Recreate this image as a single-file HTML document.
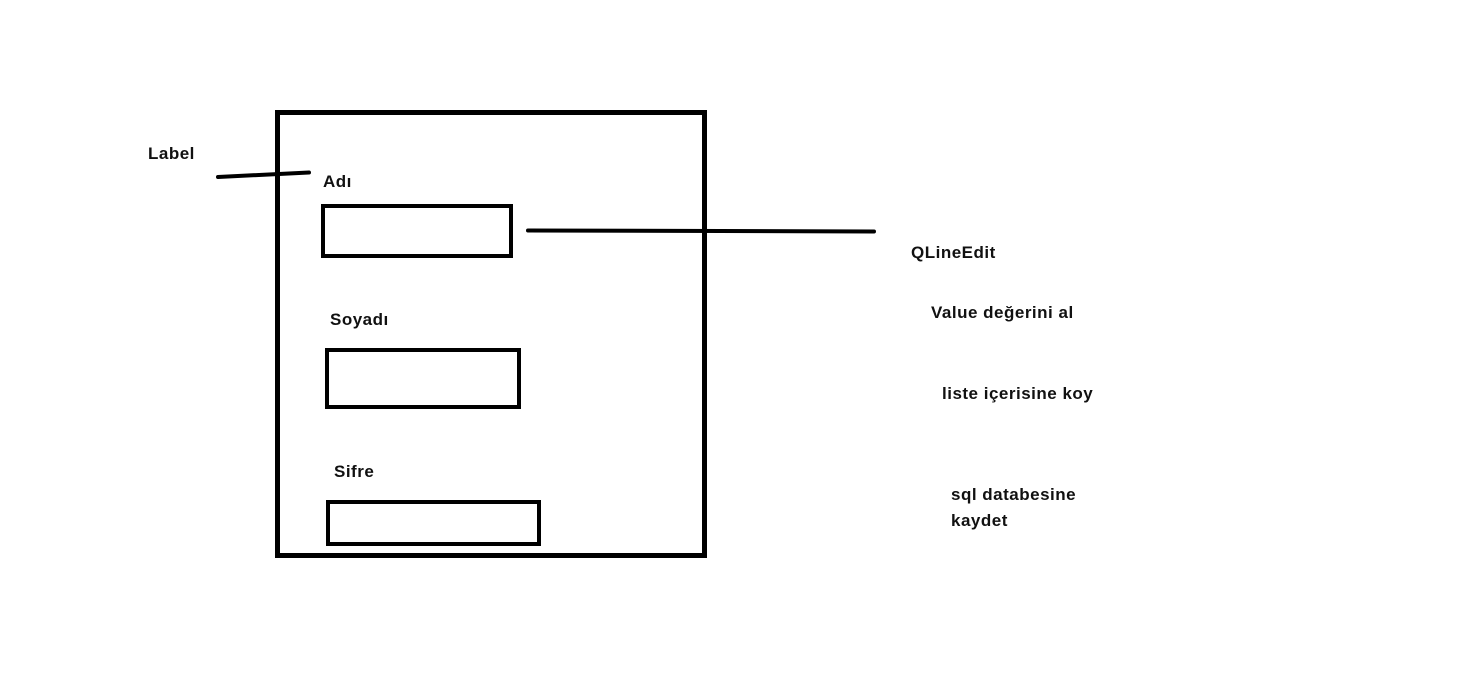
<!DOCTYPE html>
<html><head><meta charset="utf-8"><style>
html,body{margin:0;padding:0;background:#fff;width:1473px;height:692px;overflow:hidden}
svg text{font-family:"Liberation Sans",sans-serif;font-weight:bold;font-size:17px;letter-spacing:0.5px;fill:#111}
</style></head><body>
<svg width="1473" height="692" viewBox="0 0 1473 692" xmlns="http://www.w3.org/2000/svg">
<rect x="277.5" y="112.5" width="427" height="443" fill="none" stroke="#000" stroke-width="5"/>
<rect x="323" y="206" width="188" height="50" fill="none" stroke="#000" stroke-width="4"/>
<rect x="327" y="350" width="192" height="57" fill="none" stroke="#000" stroke-width="4"/>
<rect x="328" y="502" width="211" height="42" fill="none" stroke="#000" stroke-width="4"/>
<line x1="218" y1="177" x2="309" y2="172.5" stroke="#000" stroke-width="4" stroke-linecap="round"/>
<line x1="528" y1="230.5" x2="874" y2="231.5" stroke="#000" stroke-width="4" stroke-linecap="round"/>
<text x="148" y="159">Label</text>
<text x="323" y="187">Adı</text>
<text x="330" y="325">Soyadı</text>
<text x="334" y="477">Sifre</text>
<text x="911" y="258">QLineEdit</text>
<text x="931" y="318">Value değerini al</text>
<text x="942" y="399">liste içerisine koy</text>
<text x="951" y="500">sql databesine</text>
<text x="951" y="526">kaydet</text>
</svg>
</body></html>
